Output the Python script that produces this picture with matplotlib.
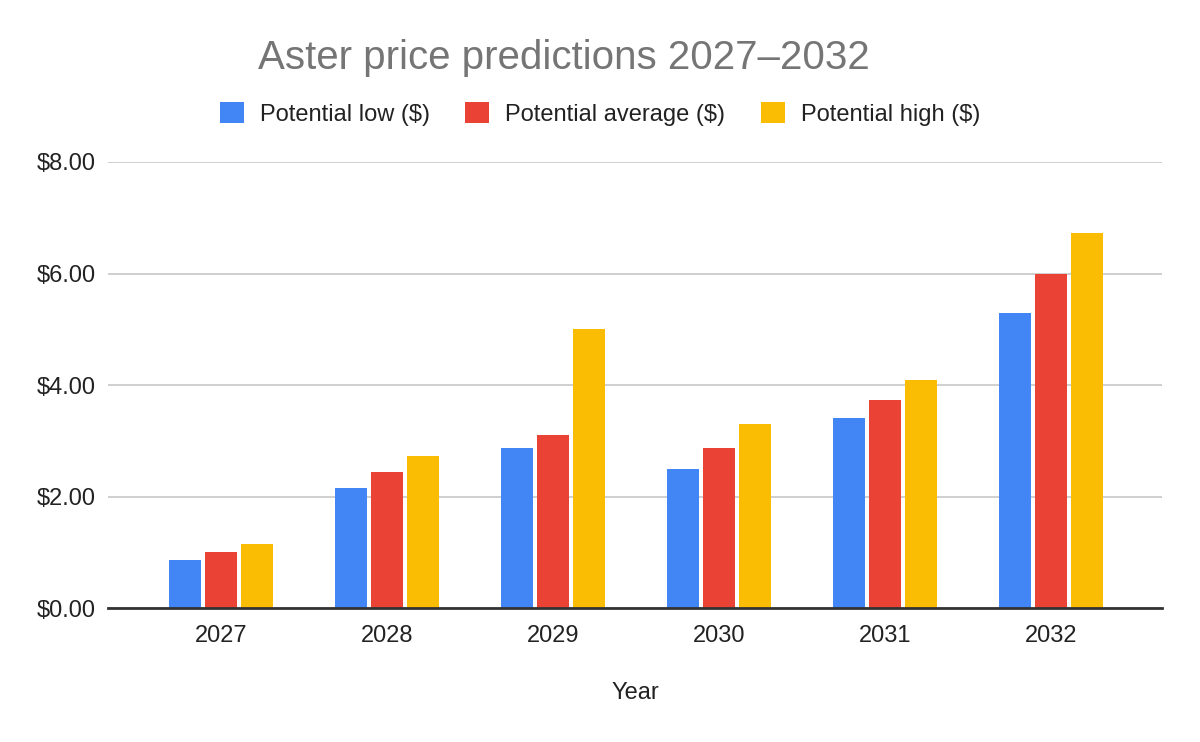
import numpy as np
import matplotlib
matplotlib.use('agg')
import matplotlib.pyplot as plt
import matplotlib.ticker as tkr

# data
years = ['2027', '2028', '2029', '2030', '2031', '2032']
low = [0.87, 2.16, 2.88, 2.49, 3.42, 5.29]
average = [1.01, 2.44, 3.10, 2.88, 3.74, 6.00]
high = [1.15, 2.73, 5.00, 3.31, 4.10, 6.72]
series_names = ['Potential low ($)', 'Potential average ($)', 'Potential high ($)']
series_colors = ['#4285F4', '#EA4335', '#FBBC04']
yticks = [0, 2, 4, 6, 8]

plt.rcParams['font.family'] = ['Liberation Sans', 'DejaVu Sans']

fig = plt.figure(figsize=[12, 7.42], dpi=100)
ax = fig.add_axes([0.09, 0.18, 0.8783, 0.6018])

x = np.arange(len(years))
width = 0.193
step = 0.217
bars = []
for i, (vals, name, col) in enumerate(zip([low, average, high], series_names, series_colors)):
    b = ax.bar(x + (i - 1) * step, vals, width, color=col, label=name, zorder=3)
    bars.append(b)

ax.set_xlim(-0.68, 5.67)
ax.set_ylim(0, 8)
ax.set_xticks(x)
ax.set_xticklabels(years)
ax.set_yticks(yticks)
ax.yaxis.set_major_formatter(tkr.FuncFormatter(lambda v, p: '${:.2f}'.format(v)))
ax.tick_params(axis='both', length=0, labelsize=17, colors='#222222')
ax.tick_params(axis='x', pad=12)
ax.tick_params(axis='y', pad=8.5)

ax.grid(axis='y', color='#cccccc', linewidth=1.3, zorder=0)
for s in ['top', 'right', 'left']:
    ax.spines[s].set_visible(False)
ax.spines['bottom'].set_color('#333333')
ax.spines['bottom'].set_linewidth(2)
ax.spines['bottom'].set_zorder(4)

ax.set_xlabel('Year', fontsize=17, color='#222222', labelpad=25)

fig.text(258 / 1200, 1 - 69 / 742, 'Aster price predictions 2027\u20132032',
         fontsize=29, color='#757575', ha='left', va='baseline')

fig.legend(handles=bars, labels=series_names, loc='center', bbox_to_anchor=(0.5, 1 - 114 / 742),
           ncol=3, frameon=False, fontsize=17, handlelength=1.0, handleheight=1.0,
           handletextpad=0.68, columnspacing=1.52, labelcolor='#222222')

plt.savefig('out.png')
